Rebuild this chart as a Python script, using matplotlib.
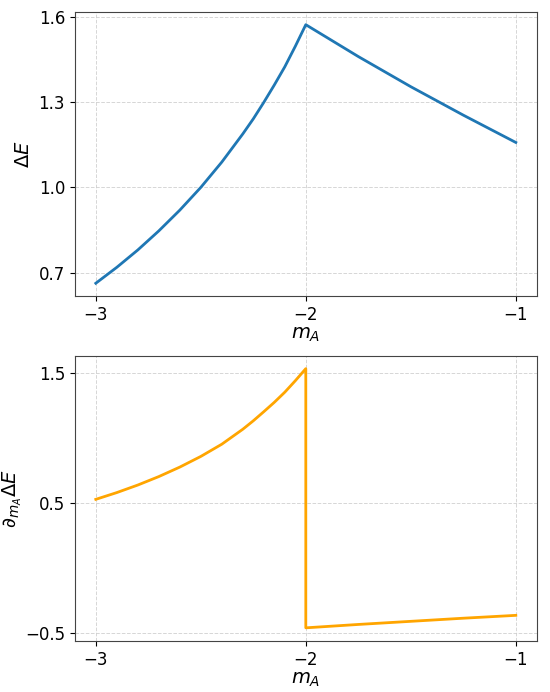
import matplotlib
matplotlib.use("Agg")
import matplotlib.pyplot as plt

# values
m_left = [-3.0, -2.9, -2.8, -2.7, -2.6, -2.5, -2.4, -2.3, -2.25, -2.2, -2.15, -2.1, -2.05, -2.0]
dE_left = [0.663, 0.719, 0.780, 0.847, 0.920, 1.000, 1.089, 1.188, 1.241, 1.299, 1.360, 1.424, 1.496, 1.572]
deriv_left = [0.526, 0.578, 0.636, 0.701, 0.774, 0.856, 0.950, 1.065, 1.130, 1.200, 1.272, 1.350, 1.438, 1.531]

m_right = [-2.0, -1.75, -1.5, -1.25, -1.0]
dE_right = [1.572, 1.460, 1.354, 1.254, 1.158]
deriv_right = [-0.462, -0.436, -0.412, -0.388, -0.366]

x_ticks = [-3, -2, -1]
dE_ticks = [0.7, 1.0, 1.3, 1.6]
deriv_ticks = [-0.5, 0.5, 1.5]

m_all = m_left + m_right
dE_all = dE_left + dE_right
deriv_all = deriv_left + deriv_right

fig = plt.figure(figsize=(5.5, 6.92), dpi=100)
ax1 = fig.add_axes([0.136, 0.572, 0.840, 0.411])
ax2 = fig.add_axes([0.136, 0.074, 0.840, 0.412])

ax1.plot(m_all, dE_all, color='#1f77b4', lw=2)
ax1.set_yticks(dE_ticks)
ax1.set_ylabel(r'$\Delta E$', fontsize=14)

ax2.plot(m_all, deriv_all, color='orange', lw=2)
ax2.set_yticks(deriv_ticks)
ax2.set_ylabel(r'$\partial_{m_A}\Delta E$', fontsize=14, labelpad=1)

for ax in (ax1, ax2):
    ax.set_xticks(x_ticks)
    ax.set_xlabel(r'$m_A$', fontsize=14, labelpad=1)
    ax.tick_params(labelsize=12)
    ax.grid(True, ls='--', lw=0.7, color='#cccccc', alpha=0.8)
    for s in ax.spines.values():
        s.set_color('#444444')

fig.savefig('out.png', dpi=100)
